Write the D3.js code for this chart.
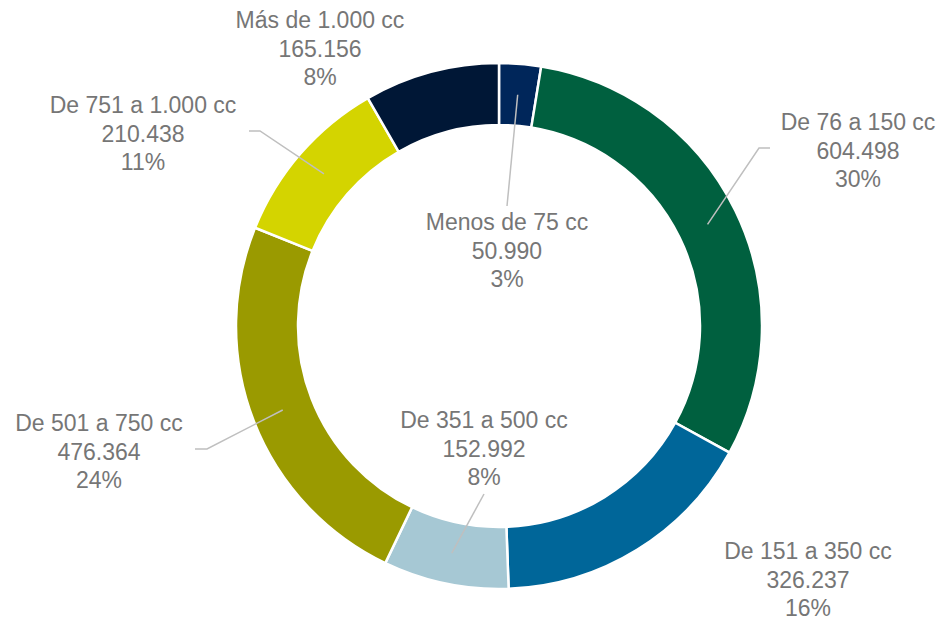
<!DOCTYPE html>
<html>
<head>
<meta charset="utf-8">
<script src="https://cdn.jsdelivr.net/npm/d3@7/dist/d3.min.js"></script>
<style>
  html, body { margin: 0; padding: 0; background: #ffffff; }
  svg { display: block; }
</style>
</head>
<body>
<svg id="chart" width="944" height="618"></svg>
<script>
// ---- Data ----
const categories = ["Menos de 75 cc", "De 76 a 150 cc", "De 151 a 350 cc", "De 351 a 500 cc", "De 501 a 750 cc", "De 751 a 1.000 cc", "Más de 1.000 cc"];
const values = [50990, 604498, 326237, 152992, 476364, 210438, 165156];
const valueLabels = ["50.990", "604.498", "326.237", "152.992", "476.364", "210.438", "165.156"];
const percentLabels = ["3%", "30%", "16%", "8%", "24%", "11%", "8%"];
const colors = ["#00265A", "#00603F", "#006699", "#A6C8D4", "#9A9A00", "#D4D400", "#001736"];

// ---- Layout (label anchor positions, leader line bends) ----
const labelLayout = [
  { x: 507, y: 230, leader: [[507, 206]] },
  { x: 858, y: 130, leader: [[759, 148], [770, 148]] },
  { x: 808, y: 559, leader: null },
  { x: 484, y: 428, leader: [[484, 494]] },
  { x: 99,  y: 431, leader: [[207, 449], [195, 449]] },
  { x: 143, y: 113, leader: [[260, 131], [249, 131]] },
  { x: 320, y: 28,  leader: null }
];

const width = 944, height = 618;
const cx = 499, cy = 326;
const outerR = 263, innerR = 201;

const svg = d3.select("#chart");
const g = svg.append("g").attr("transform", `translate(${cx},${cy})`);

const pie = d3.pie().sort(null).value(d => d)(values);
const arc = d3.arc().innerRadius(innerR).outerRadius(outerR);

g.selectAll("path.slice")
  .data(pie)
  .join("path")
  .attr("class", "slice")
  .attr("d", arc)
  .attr("fill", (d, i) => colors[i])
  .attr("stroke", "#ffffff")
  .attr("stroke-width", 2.5)
  .attr("stroke-linejoin", "miter");

// leader lines
const line = d3.line();
pie.forEach((d, i) => {
  const L = labelLayout[i];
  if (!L.leader) return;
  const c = arc.centroid(d);
  const pts = [[c[0] + cx, c[1] + cy]].concat(L.leader);
  svg.append("path")
    .attr("d", line(pts))
    .attr("fill", "none")
    .attr("stroke", "#BFBFBF")
    .attr("stroke-width", 1.5);
});

// labels
const lh = 28.5;
categories.forEach((c, i) => {
  const L = labelLayout[i];
  const t = svg.append("text")
    .attr("x", L.x)
    .attr("y", L.y)
    .attr("text-anchor", "middle")
    .attr("font-family", "'Liberation Sans', Arial, sans-serif")
    .attr("font-size", 23)
    .attr("fill", "#767676");
  [c, valueLabels[i], percentLabels[i]].forEach((s, k) => {
    t.append("tspan").attr("x", L.x).attr("y", L.y + k * lh).text(s);
  });
});
</script>
</body>
</html>
